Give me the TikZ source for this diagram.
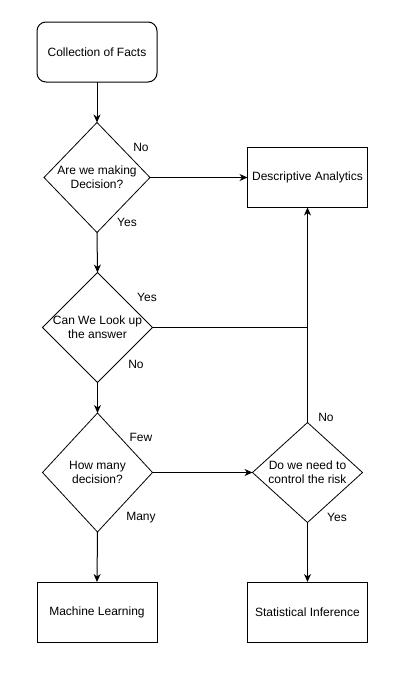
\documentclass[tikz,border=0pt]{standalone}
\usepackage{fontspec}
\setmainfont{Liberation Sans}
\usetikzlibrary{shapes.geometric,arrows.meta}
\tikzset{
  box/.style={draw, line width=1pt, minimum width=120pt, minimum height=60pt, inner sep=0pt, outer sep=0pt, font=\fontsize{12pt}{13.8pt}\selectfont},
  rbox/.style={box, rounded corners=9pt},
  dec/.style={draw, line width=0.8pt, shape=diamond, inner sep=0pt, outer sep=0pt},
  txt/.style={align=center, inner sep=0pt, font=\fontsize{12pt}{13.8pt}\selectfont},
  lbl/.style={inner sep=0pt, font=\fontsize{12pt}{13.8pt}\selectfont},
  conn/.style={line width=1pt},
  arr/.style={conn, -{Stealth[length=8pt,width=7pt,inset=2.5pt]}}
}
\begin{document}
\begin{tikzpicture}[x=1pt,y=-1pt]
\useasboundingbox (0,0) rectangle (407,673);
\fill[white] (0,0) rectangle (407,673);
% nodes
\node[rbox] (facts) at (97,52) {Collection of Facts};
\node[dec, minimum width=106pt, minimum height=110pt] (d1) at (97,177.5) {};
\node[txt] at (d1) {Are we making\\Decision?};
\node[box] (desc) at (307.5,177.5) {Descriptive Analytics};
\node[dec, minimum width=110pt, minimum height=110pt] (d2) at (97.5,327.5) {};
\node[txt] at (d2) {Can We Look up\\the answer};
\node[dec, minimum width=110pt, minimum height=119pt] (d3) at (97.5,472.5) {};
\node[txt] at (d3) {How many\\decision?};
\node[dec, minimum width=110pt, minimum height=100pt] (d4) at (307.5,472.5) {};
\node[txt] at (d4) {Do we need to\\control the risk};
\node[box] (ml) at (97,612) {Machine Learning};
\node[box] (si) at (307.5,612) {Statistical Inference};
\coordinate (j) at (307.5,327.5);
% labels
\node[lbl] at (141,147.5) {No};
\node[lbl] at (127,222.5) {Yes};
\node[lbl] at (147,297.5) {Yes};
\node[lbl] at (136,364) {No};
\node[lbl] at (141,437.5) {Few};
\node[lbl] at (141,517.5) {Many};
\node[lbl] at (326,417.5) {No};
\node[lbl] at (337,517.5) {Yes};
% connectors
\draw[arr] (facts.south) -- (d1.north);
\draw[arr] (d1.east) -- (desc.west);
\draw[arr] (d1.south) -- (d2.north);
\draw[conn] (d2.east) -- (j);
\draw[arr] (d4.north) -- (desc.south);
\draw[arr] (d2.south) -- (d3.north);
\draw[arr] (d3.east) -- (d4.west);
\draw[arr] (d3.south) -- (ml.north);
\draw[arr] (d4.south) -- (si.north);
\end{tikzpicture}
\end{document}
